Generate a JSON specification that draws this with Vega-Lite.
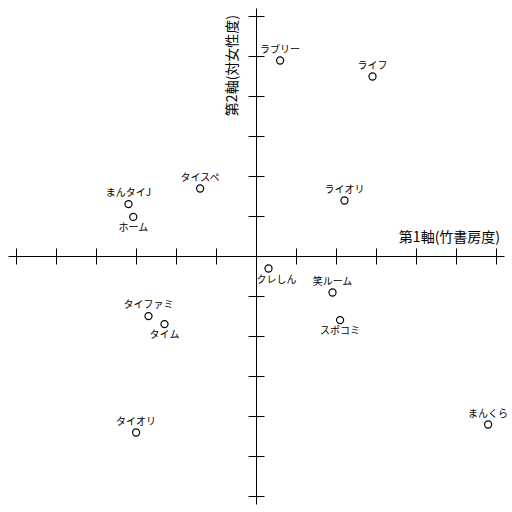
{
  "$schema": "https://vega.github.io/schema/vega-lite/v6.json",
  "width": 512,
  "height": 512,
  "autosize": {"type": "none"},
  "padding": 0,
  "background": "white",
  "datasets": {
    "points": [
      {"name": "ラブリー", "dim1": 0.59, "dim2": 4.9},
      {"name": "ライフ", "dim1": 2.9, "dim2": 4.5},
      {"name": "ライオリ", "dim1": 2.2, "dim2": 1.4},
      {"name": "タイスペ", "dim1": -1.41, "dim2": 1.7},
      {"name": "まんタイJ", "dim1": -3.2, "dim2": 1.31},
      {"name": "ホーム", "dim1": -3.08, "dim2": 0.99},
      {"name": "クレしん", "dim1": 0.3, "dim2": -0.3},
      {"name": "笑ルーム", "dim1": 1.9, "dim2": -0.9},
      {"name": "スポコミ", "dim1": 2.09, "dim2": -1.59},
      {"name": "まんくら", "dim1": 5.79, "dim2": -4.2},
      {"name": "タイファミ", "dim1": -2.7, "dim2": -1.49},
      {"name": "タイム", "dim1": -2.3, "dim2": -1.69},
      {"name": "タイオリ", "dim1": -3.01, "dim2": -4.4}
    ],
    "ticks": [
      {"v": -6}, {"v": -5}, {"v": -4}, {"v": -3}, {"v": -2}, {"v": -1},
      {"v": 1}, {"v": 2}, {"v": 3}, {"v": 4}, {"v": 5}, {"v": 6}
    ]
  },
  "layer": [
    {
      "data": {"values": [{}]},
      "mark": {"type": "rule", "color": "black", "strokeWidth": 1},
      "encoding": {
        "x": {"datum": -6.2, "type": "quantitative", "scale": {"domain": [-6.4125, 6.3875], "nice": false, "zero": false}, "axis": null},
        "x2": {"datum": 6.2},
        "y": {"datum": 0, "type": "quantitative", "scale": {"domain": [-6.3875, 6.4125], "nice": false, "zero": false}, "axis": null}
      }
    },
    {
      "data": {"values": [{}]},
      "mark": {"type": "rule", "color": "black", "strokeWidth": 1},
      "encoding": {
        "x": {"datum": 0, "type": "quantitative", "scale": {"domain": [-6.4125, 6.3875], "nice": false, "zero": false}, "axis": null},
        "y": {"datum": -6.2, "type": "quantitative", "scale": {"domain": [-6.3875, 6.4125], "nice": false, "zero": false}, "axis": null},
        "y2": {"datum": 6.2}
      }
    },
    {
      "data": {"name": "ticks"},
      "mark": {"type": "rule", "color": "black", "strokeWidth": 1},
      "encoding": {
        "x": {"field": "v", "type": "quantitative", "scale": {"domain": [-6.4125, 6.3875], "nice": false, "zero": false}, "axis": null},
        "y": {"datum": -0.2, "type": "quantitative", "scale": {"domain": [-6.3875, 6.4125], "nice": false, "zero": false}, "axis": null},
        "y2": {"datum": 0.2}
      }
    },
    {
      "data": {"name": "ticks"},
      "mark": {"type": "rule", "color": "black", "strokeWidth": 1},
      "encoding": {
        "y": {"field": "v", "type": "quantitative", "scale": {"domain": [-6.3875, 6.4125], "nice": false, "zero": false}, "axis": null},
        "x": {"datum": -0.2, "type": "quantitative", "scale": {"domain": [-6.4125, 6.3875], "nice": false, "zero": false}, "axis": null},
        "x2": {"datum": 0.2}
      }
    },
    {
      "data": {"name": "points"},
      "mark": {"type": "point", "shape": "circle", "filled": false, "size": 50, "stroke": "black", "strokeWidth": 1.2, "opacity": 1},
      "encoding": {
        "x": {"field": "dim1", "type": "quantitative", "scale": {"domain": [-6.4125, 6.3875], "nice": false, "zero": false}, "axis": null},
        "y": {"field": "dim2", "type": "quantitative", "scale": {"domain": [-6.3875, 6.4125], "nice": false, "zero": false}, "axis": null}
      }
    },
    {
      "data": {"name": "points"},
      "transform": [{"filter": {"not": {"field": "name", "oneOf": ["ホーム", "クレしん", "スポコミ", "タイム"]}}}],
      "mark": {"type": "text", "font": "Noto Sans CJK JP", "fontSize": 10, "color": "black", "baseline": "middle", "align": "center", "dy": -11},
      "encoding": {
        "x": {"field": "dim1", "type": "quantitative", "scale": {"domain": [-6.4125, 6.3875], "nice": false, "zero": false}, "axis": null},
        "y": {"field": "dim2", "type": "quantitative", "scale": {"domain": [-6.3875, 6.4125], "nice": false, "zero": false}, "axis": null},
        "text": {"field": "name"}
      }
    },
    {
      "data": {"name": "points"},
      "transform": [{"filter": {"field": "name", "oneOf": ["ホーム", "スポコミ", "タイム"]}}],
      "mark": {"type": "text", "font": "Noto Sans CJK JP", "fontSize": 10, "color": "black", "baseline": "middle", "align": "center", "dy": 11},
      "encoding": {
        "x": {"field": "dim1", "type": "quantitative", "scale": {"domain": [-6.4125, 6.3875], "nice": false, "zero": false}, "axis": null},
        "y": {"field": "dim2", "type": "quantitative", "scale": {"domain": [-6.3875, 6.4125], "nice": false, "zero": false}, "axis": null},
        "text": {"field": "name"}
      }
    },
    {
      "data": {"name": "points"},
      "transform": [{"filter": {"field": "name", "equal": "クレしん"}}],
      "mark": {"type": "text", "font": "Noto Sans CJK JP", "fontSize": 10, "color": "black", "baseline": "middle", "align": "center", "dx": 8, "dy": 11},
      "encoding": {
        "x": {"field": "dim1", "type": "quantitative", "scale": {"domain": [-6.4125, 6.3875], "nice": false, "zero": false}, "axis": null},
        "y": {"field": "dim2", "type": "quantitative", "scale": {"domain": [-6.3875, 6.4125], "nice": false, "zero": false}, "axis": null},
        "text": {"field": "name"}
      }
    },
    {
      "data": {"values": [{"label": "第1軸(竹書房度)"}]},
      "mark": {"type": "text", "font": "Noto Sans CJK JP", "fontSize": 14, "color": "black", "baseline": "middle", "align": "right"},
      "encoding": {
        "x": {"datum": 6.09, "type": "quantitative", "scale": {"domain": [-6.4125, 6.3875], "nice": false, "zero": false}, "axis": null},
        "y": {"datum": 0.46, "type": "quantitative", "scale": {"domain": [-6.3875, 6.4125], "nice": false, "zero": false}, "axis": null},
        "text": {"field": "label"}
      }
    },
    {
      "data": {"values": [{"label": "第2軸(対女性度)"}]},
      "mark": {"type": "text", "font": "Noto Sans CJK JP", "fontSize": 14, "color": "black", "baseline": "middle", "align": "right", "angle": 270},
      "encoding": {
        "x": {"datum": -0.59, "type": "quantitative", "scale": {"domain": [-6.4125, 6.3875], "nice": false, "zero": false}, "axis": null},
        "y": {"datum": 6.04, "type": "quantitative", "scale": {"domain": [-6.3875, 6.4125], "nice": false, "zero": false}, "axis": null},
        "text": {"field": "label"}
      }
    }
  ],
  "config": {
    "view": {"stroke": null}
  }
}
